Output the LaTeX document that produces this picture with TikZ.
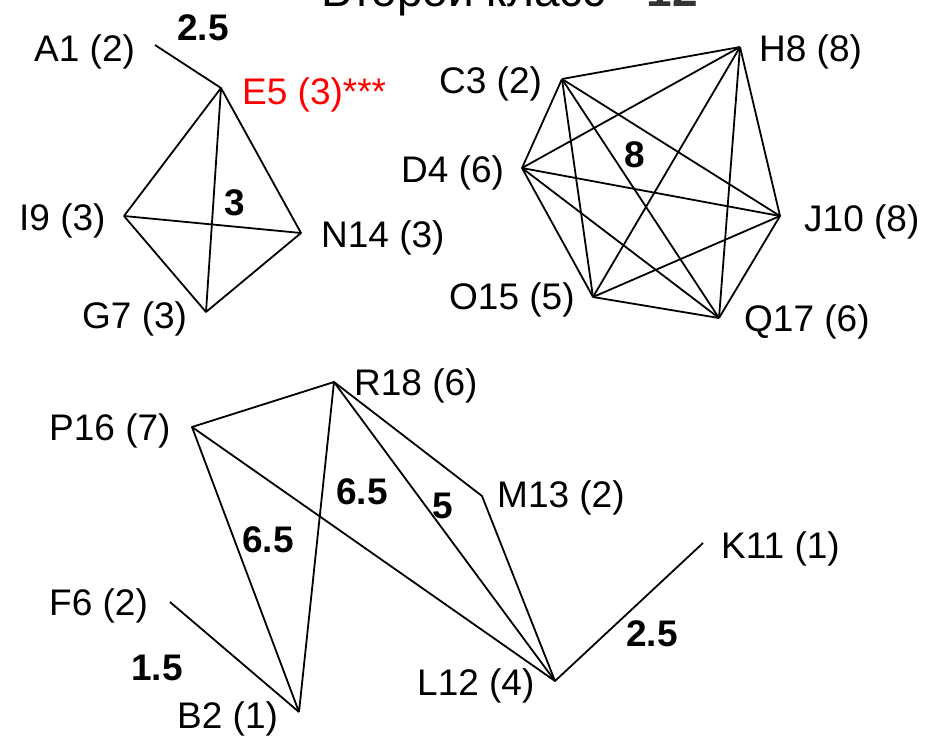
\documentclass[tikz,border=0pt]{standalone}
\usepackage{fontspec}
\setmainfont{Liberation Sans}
\definecolor{titlegray}{gray}{0.2}
\tikzset{
  lbl/.style={anchor=west, inner sep=0pt, font=\fontsize{37}{42}\selectfont},
  wgt/.style={inner sep=0pt, font=\fontsize{37}{42}\selectfont\bfseries},
  edge/.style={line width=1.8pt, line join=round},
}

\begin{document}
\begin{tikzpicture}[x=1pt, y=-1pt]
		%%%%% START %%%%%
		\useasboundingbox (0, 0) rectangle (933, 742);
		
		\node[anchor=base, inner sep=0pt, font=\fontsize{46}{50}\selectfont] (title) at (510, 6)
			{Второй класс - \textcolor{titlegray}{\bfseries 12}};
		
		% first class
		\coordinate (a1) at (155, 45);
		\coordinate (e5) at (221, 88);
		\coordinate (i9) at (124, 216);
		\coordinate (n14) at (301, 233);
		\coordinate (g7) at (206, 312);
		\node[lbl] (a1l) at (34, 52) {A1 (2)};
		\node[lbl, text=red] (e5l) at (242, 95) {E5 (3)***};
		\node[lbl] (i9l) at (19, 221) {I9 (3)};
		\node[lbl] (n14l) at (321, 238) {N14 (3)};
		\node[lbl] (g7l) at (82, 319) {G7 (3)};
		
		\draw[edge] (a1) -- (e5);
		\draw[edge] (e5) -- (i9) -- (g7) -- (n14) -- (e5) -- (g7);
		\draw[edge] (i9) -- (n14);
		\node[wgt] (w1) at (203, 28) {2.5};
		\node[wgt] (w2) at (235, 203) {3};
		
		% second class
		\coordinate (c3) at (562, 79);
		\coordinate (h8) at (740, 47);
		\coordinate (d4) at (522, 168);
		\coordinate (j10) at (780, 216);
		\coordinate (o15) at (593, 297);
		\coordinate (q17) at (719, 318);
		\node[lbl] (c3l) at (439, 84) {C3 (2)};
		\node[lbl] (h8l) at (759, 52) {H8 (8)};
		\node[lbl] (d4l) at (401, 173) {D4 (6)};
		\node[lbl] (j10l) at (804, 222) {J10 (8)};
		\node[lbl] (o15l) at (449, 300) {O15 (5)};
		\node[lbl] (q17l) at (744, 322) {Q17 (6)};
		
		\foreach \s/\t in {c3/h8, c3/d4, c3/j10, c3/o15, c3/q17,
				h8/d4, h8/j10, h8/o15, h8/q17,
				d4/j10, d4/o15, d4/q17,
				j10/o15, j10/q17, o15/q17}
			\draw[edge] (\s) -- (\t);
		\node[wgt] (w3) at (635, 155) {8};
		
		% third class
		\coordinate (p16) at (192, 427);
		\coordinate (r18) at (334, 382);
		\coordinate (m13) at (482, 496);
		\coordinate (k11) at (703, 543);
		\coordinate (f6) at (170, 602);
		\coordinate (b2) at (299, 712);
		\coordinate (l12) at (555, 681);
		\node[lbl] (p16l) at (49, 431) {P16 (7)};
		\node[lbl] (r18l) at (354, 386) {R18 (6)};
		\node[lbl] (m13l) at (497, 498) {M13 (2)};
		\node[lbl] (k11l) at (721, 549) {K11 (1)};
		\node[lbl] (f6l) at (49, 606) {F6 (2)};
		\node[lbl] (b2l) at (177, 719) {B2 (1)};
		\node[lbl] (l12l) at (417, 686) {L12 (4)};
		
		\draw[edge] (b2) -- (p16) -- (r18) -- (b2);
		\draw[edge] (p16) -- (l12);
		\draw[edge] (r18) -- (l12);
		\draw[edge] (r18) -- (m13) -- (l12) -- (k11);
		\draw[edge] (f6) -- (b2);
		\node[wgt] (w4) at (268, 540) {6.5};
		\node[wgt] (w5) at (362, 492) {6.5};
		\node[wgt] (w6) at (443, 506) {5};
		\node[wgt] (w7) at (652, 634) {2.5};
		\node[wgt] (w8) at (157, 668) {1.5};
		
		%%%%% END %%%%%
	\end{tikzpicture}
\end{document}
